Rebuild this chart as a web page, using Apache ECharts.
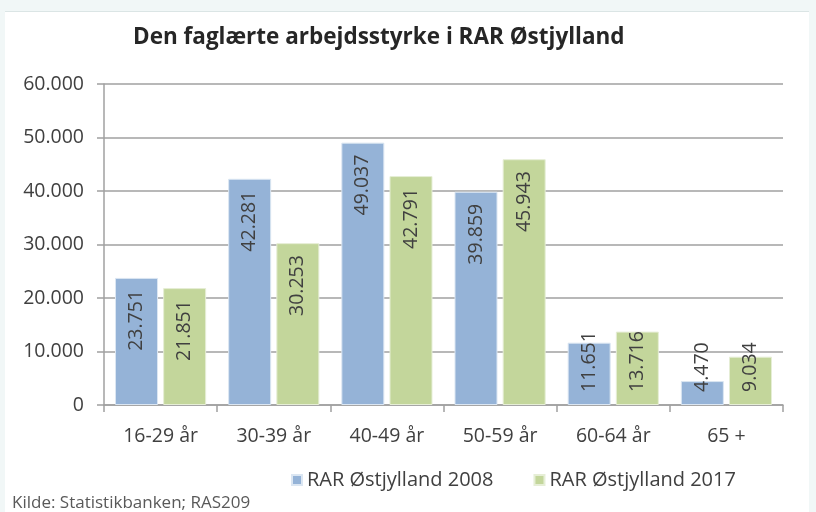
<!DOCTYPE html>
<html>
<head>
<meta charset="utf-8">
<script src="https://cdn.jsdelivr.net/npm/echarts@6/dist/echarts.min.js"></script>
<style>
html,body{margin:0;padding:0;background:#f1f7f7;width:816px;height:512px;overflow:hidden;}
#panel{position:absolute;left:5px;top:11px;width:804px;height:501px;background:#fff;border-top:1px solid #dbe5e5;}
#chart{position:absolute;left:0;top:0;width:816px;height:512px;}
</style>
</head>
<body>
<div id="panel"></div>
<div id="chart"></div>
<script>
const categories = ['16-29 år','30-39 år','40-49 år','50-59 år','60-64 år','65 +'];
const series2008 = [23751, 42281, 49037, 39859, 11651, 4470];
const series2017 = [21851, 30253, 42791, 45943, 13716, 9034];
const seriesNames = ['RAR Østjylland 2008','RAR Østjylland 2017'];
const yTicks = {min:0, max:60000, interval:10000};

function fmt(v){ return v === 0 ? '0' : String(v).replace(/\B(?=(\d{3})+(?!\d))/g, '.'); }

function withLabels(arr){
  return arr.map(v => {
    const small = v < 16000;
    return {
      value: v,
      label: small ? {position:'insideBottom', distance:13, align:'left'} :
                     {position:'insideTop', distance:12, align:'right'}
    };
  });
}

const labelBase = {
  show:true, rotate:90, verticalAlign:'middle',
  fontFamily:'Open Sans', fontSize:19.5, color:'#404040',
  formatter: p => fmt(p.value)
};

const chart = echarts.init(document.getElementById('chart'), null, {renderer:'canvas'});
chart.setOption({
  backgroundColor:'transparent',
  animation:false,
  title:{
    text:'Den faglærte arbejdsstyrke i RAR Østjylland',
    left:128, top:21,
    textStyle:{fontFamily:'Open Sans', fontWeight:'bold', fontSize:22.5, color:'#262626'}
  },
  legend:{
    left:286, top:465,
    icon:'rect', itemWidth:10, itemHeight:10, itemGap:40,
    textStyle:{fontFamily:'Open Sans', fontSize:20, color:'#404040'},
    data: seriesNames
  },
  graphic:[{
    type:'text', left:12, top:495,
    style:{text:'Kilde: Statistikbanken; RAS209', fontFamily:'Open Sans', fontSize:17, fill:'#595959'}
  }],
  grid:{left:104, right:33, top:84, bottom:107, containLabel:false},
  xAxis:{
    type:'category', data:categories,
    axisLine:{lineStyle:{color:'#a0a0a0', width:1.5}},
    axisTick:{show:true, length:7, lineStyle:{color:'#a0a0a0', width:1.5}},
    axisLabel:{fontFamily:'Open Sans', fontSize:19.5, color:'#404040', margin:21}
  },
  yAxis:{
    type:'value', min:yTicks.min, max:yTicks.max, interval:yTicks.interval,
    axisLine:{show:true, lineStyle:{color:'#a0a0a0', width:1.5}},
    axisTick:{show:true, length:7, lineStyle:{color:'#a0a0a0', width:1.5}},
    splitLine:{lineStyle:{color:'#a0a0a0', width:1.5}},
    axisLabel:{fontFamily:'Open Sans', fontSize:19.5, color:'#404040', margin:20, formatter: v => fmt(v)}
  },
  series:[
    {name:seriesNames[0], type:'bar', data:withLabels(series2008), barWidth:43, barGap:'12%',
     itemStyle:{color:'#95b3d7', borderColor:'#dbe6f2', borderWidth:1}, label:labelBase},
    {name:seriesNames[1], type:'bar', data:withLabels(series2017), barWidth:43, barGap:'12%',
     itemStyle:{color:'#c3d69b', borderColor:'#e6eed6', borderWidth:1}, label:labelBase}
  ]
});
</script>
</body>
</html>
